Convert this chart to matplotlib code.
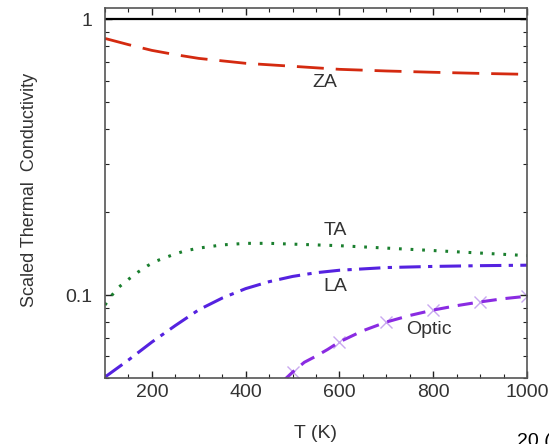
import numpy as np
import matplotlib.pyplot as plt
from matplotlib.ticker import LogLocator, NullFormatter, FixedLocator, MultipleLocator

plt.rcParams['font.family'] = ['Liberation Sans', 'DejaVu Sans']

# values
T_za = [100, 150, 200, 250, 300, 400, 500, 600, 700, 800, 900, 1000]
k_za = [0.853, 0.81, 0.772, 0.745, 0.722, 0.693, 0.676, 0.659, 0.650, 0.643, 0.637, 0.632]

T_ta = [100, 115, 130, 150, 170, 190, 210, 230, 250, 270, 300, 350, 400, 450, 500,
        600, 700, 800, 900, 1000]
k_ta = [0.092, 0.100, 0.107, 0.114, 0.121, 0.1275, 0.133, 0.137, 0.141, 0.1445, 0.148,
        0.152, 0.154, 0.154, 0.153, 0.151, 0.148, 0.145, 0.142, 0.139]

T_la = [100, 150, 200, 250, 300, 350, 400, 450, 500, 550, 600, 700, 800, 900, 1000]
k_la = [0.0504, 0.0581, 0.0675, 0.0775, 0.0884, 0.0975, 0.1055, 0.1118, 0.1168, 0.1205,
        0.123, 0.1258, 0.127, 0.1278, 0.1283]

T_op = [480, 500, 525, 550, 575, 600, 650, 700, 750, 800, 850, 900, 950, 1000]
k_op = [0.0488, 0.0525, 0.057, 0.060, 0.0635, 0.0676, 0.0742, 0.0798, 0.0843, 0.0882,
        0.0915, 0.0944, 0.097, 0.099]
op_marks = [1, 5, 7, 9, 11, 13]  # points at 500, 600, ... 1000

labels = ['ZA', 'TA', 'LA', 'Optic']
label_pos = [(569, 0.591), (591, 0.172), (591, 0.107), (791, 0.0747)]

fig = plt.figure(figsize=(5.49, 4.44), dpi=100)
ax = fig.add_axes([105/549, 1-378/444, 422/549, 370/444])

txt = '#333333'
ax.axhline(1.0, color='black', lw=1.6)

l, = ax.plot(T_za, k_za, color='#d42a10', lw=2.0)
l.set_dashes([9.7, 4.3])
l, = ax.plot(T_ta, k_ta, color='#1a7f2e', lw=2.2)
l.set_dashes([0.9, 2.9])
l, = ax.plot(T_la, k_la, color='#5522e0', lw=2.2)
l.set_dashes([7.0, 2.4, 1.4, 2.4])
l, = ax.plot(T_op, k_op, color='#8a2be2', lw=2.2)
l.set_dashes([5.0, 2.9])
ax.plot([T_op[i] for i in op_marks], [k_op[i] for i in op_marks], ls='none',
        marker='x', ms=8, mew=1.0, color='#c9a8f0', zorder=1)

for s, (x, y) in zip(labels, label_pos):
    ax.text(x, y, s, fontsize=14, color=txt, ha='center', va='center')

ax.set_yscale('log')
ax.set_xlim(100, 1000)
ax.set_ylim(0.05, 1.1)
ax.xaxis.set_major_locator(FixedLocator([200, 400, 600, 800, 1000]))
ax.xaxis.set_minor_locator(MultipleLocator(50))
ax.yaxis.set_major_locator(FixedLocator([0.1, 1]))
ax.yaxis.set_minor_locator(LogLocator(base=10, subs=np.arange(2, 10)))
ax.yaxis.set_minor_formatter(NullFormatter())
ax.set_yticklabels(['0.1', '1'])
ax.tick_params(which='both', direction='in', top=True, right=True,
               labelsize=14, labelcolor=txt, color='#222222')
ax.tick_params(which='major', length=5, width=1)
ax.tick_params(which='minor', length=3, width=0.8)
ax.tick_params(axis='x', pad=4)
ax.tick_params(axis='y', pad=9)
for sp in ax.spines.values():
    sp.set_color('#555555')
    sp.set_linewidth(1.2)

fig.text(30/549, 1-190/444, 'Scaled Thermal  Conductivity', rotation=90,
         fontsize=13, color=txt, ha='center', va='center')
fig.text(316/549, 1-433/444, 'T (K)', fontsize=14, color=txt, ha='center', va='center')
fig.text(517/549, 1-441/444, '20 (', fontsize=14, color='black', ha='left', va='center')

fig.savefig('out.png', dpi=100)
